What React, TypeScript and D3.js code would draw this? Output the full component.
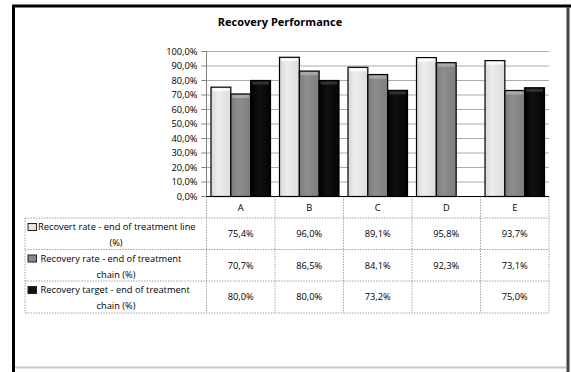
import React from "react";
import * as d3 from "d3";

const categories = ["A", "B", "C", "D", "E"];
const seriesNames = [
  ["Recovert rate - end of treatment  line", "(%)"],
  ["Recovery rate - end of treatment", "chain (%)"],
  ["Recovery target - end of treatment", "chain (%)"],
];
const recovertLine: (number | null)[] = [75.4, 96.0, 89.1, 95.8, 93.7];
const recoveryChain: (number | null)[] = [70.7, 86.5, 84.1, 92.3, 73.1];
const recoveryTarget: (number | null)[] = [80.0, 80.0, 73.2, null, 75.0];
const yTicks = [0, 10, 20, 30, 40, 50, 60, 70, 80, 90, 100];

const seriesValues = [recovertLine, recoveryChain, recoveryTarget];
const fills = ["url(#gWhite)", "url(#gGray)", "url(#gBlack)"];
const topFills = ["#ffffff", "#b0b0b0", "#3a3a3a"];
const legendFills = ["#e4e4e4", "#8a8a8a", "#111"];

const fmt = (v: number) => v.toFixed(1).replace(".", ",") + "%";
const FONT = "'Open Sans', 'DejaVu Sans', sans-serif";

export default function App() {
  const plotL = 206.5, plotR = 549, plotT = 51.5, plotB = 196.5;
  const tableL = 25;
  const rowLines = [218, 249.5, 281, 313];
  const textStart = [38, 40.5, 40.5];

  const x = d3.scaleBand<string>().domain(categories).range([plotL, plotR]).paddingInner(0).paddingOuter(0);
  const inner = d3.scaleBand<string>().domain(["0", "1", "2"]).range([0, x.bandwidth()]).paddingOuter(0.227).paddingInner(0);
  const y = d3.scaleLinear().domain([0, 100]).range([plotB, plotT]);

  const colEdges = [plotL, ...categories.map((c) => (x(c) as number) + x.bandwidth())];

  return (
    <svg width={571} height={372} style={{ position: "absolute", left: 0, top: 0, background: "#fff" }} fontFamily={FONT}>
      <defs>
        <linearGradient id="gWhite" x1="0" x2="1" y1="0" y2="0">
          <stop offset="0" stopColor="#d8d8d8" />
          <stop offset="0.35" stopColor="#ececec" />
          <stop offset="1" stopColor="#dcdcdc" />
        </linearGradient>
        <linearGradient id="gGray" x1="0" x2="1" y1="0" y2="0">
          <stop offset="0" stopColor="#7a7a7a" />
          <stop offset="0.35" stopColor="#8e8e8e" />
          <stop offset="1" stopColor="#7e7e7e" />
        </linearGradient>
        <linearGradient id="gBlack" x1="0" x2="1" y1="0" y2="0">
          <stop offset="0" stopColor="#000" />
          <stop offset="0.4" stopColor="#111" />
          <stop offset="1" stopColor="#050505" />
        </linearGradient>
      </defs>

      {/* outer frame */}
      <rect x={0} y={0} width={571} height={372} fill="#fff" />
      <line x1={12} x2={571} y1={6} y2={6} stroke="#000" strokeWidth={3} />
      <line x1={13.5} x2={13.5} y1={5} y2={372} stroke="#000" strokeWidth={3} />
      <line x1={568} x2={568} y1={7} y2={372} stroke="#444" strokeWidth={3} />
      <line x1={15} x2={566} y1={367.5} y2={367.5} stroke="#c8c8c8" strokeWidth={2} />

      {/* title */}
      <text x={280} y={26} textAnchor="middle" fontSize={11} fontWeight="bold" fill="#000">
        Recovery Performance
      </text>

      {/* gridlines */}
      {yTicks.map((t) => (
        <g key={t}>
          {t > 0 && (
            <line x1={plotL} x2={plotR} y1={y(t)} y2={y(t)} stroke="#ababab" strokeWidth={1.2} />
          )}
          <line x1={plotL - 5} x2={plotL} y1={y(t)} y2={y(t)} stroke="#808080" strokeWidth={1} />
          <text x={plotL - 9} y={y(t)} dy="0.35em" textAnchor="end" fontSize={9.3} fill="#000">
            {fmt(t)}
          </text>
        </g>
      ))}
      <line x1={plotL} x2={plotL} y1={plotT} y2={plotB} stroke="#808080" strokeWidth={1} />

      {/* bars */}
      {categories.map((c, ci) =>
        seriesValues.map((vals, si) => {
          const v = vals[ci];
          if (v == null) return null;
          const bx = (x(c) as number) + (inner(String(si)) as number);
          const bw = inner.bandwidth();
          const by = y(v);
          return (
            <g key={c + si}>
              <rect x={bx} y={by} width={bw} height={plotB - by} fill={fills[si]} stroke="#000" strokeWidth={1.2} />
              <rect x={bx + 1.5} y={by + 1} width={bw - 3} height={3} fill={topFills[si]} opacity={0.8} />
            </g>
          );
        })
      )}
      <line x1={plotL} x2={plotR} y1={plotB} y2={plotB} stroke="#000" strokeWidth={1.2} />

      {/* table lines */}
      <g stroke="#8c8c8c" strokeWidth={0.8} strokeDasharray="1.5,1.2" fill="none">
        {rowLines.map((ry, i) => (
          <line key={"r" + i} x1={tableL} x2={plotR} y1={ry} y2={ry} />
        ))}
        <line x1={tableL} x2={tableL} y1={rowLines[0]} y2={rowLines[3]} />
        {colEdges.map((cx, i) => (
          <line key={"c" + i} x1={cx} x2={cx} y1={plotB} y2={rowLines[3]} />
        ))}
      </g>

      {/* category header */}
      {categories.map((c) => (
        <text key={c} x={(x(c) as number) + x.bandwidth() / 2} y={208} dy="0.35em" textAnchor="middle" fontSize={9.3} fill="#000">
          {c}
        </text>
      ))}

      {/* legend column */}
      {seriesNames.map((lines, si) => {
        const top = rowLines[si];
        const l1 = top + 9;
        const l2 = top + 25;
        return (
          <g key={"lg" + si}>
            <rect x={28} y={l1 - 3.5} width={8.5} height={7} fill={legendFills[si]} stroke="#222" strokeWidth={1} />
            <text x={textStart[si]} y={l1} dy="0.35em" fontSize={9.3} fill="#000">
              {lines[0]}
            </text>
            <text x={116} y={l2} dy="0.35em" textAnchor="middle" fontSize={9.3} fill="#000">
              {lines[1]}
            </text>
          </g>
        );
      })}

      {/* values */}
      {seriesValues.map((vals, si) =>
        categories.map((c, ci) => {
          const v = vals[ci];
          if (v == null) return null;
          return (
            <text key={"v" + si + c} x={(x(c) as number) + x.bandwidth() / 2} y={(rowLines[si] + rowLines[si + 1]) / 2} dy="0.35em" textAnchor="middle" fontSize={9.3} fill="#000">
              {fmt(v)}
            </text>
          );
        })
      )}
    </svg>
  );
}
